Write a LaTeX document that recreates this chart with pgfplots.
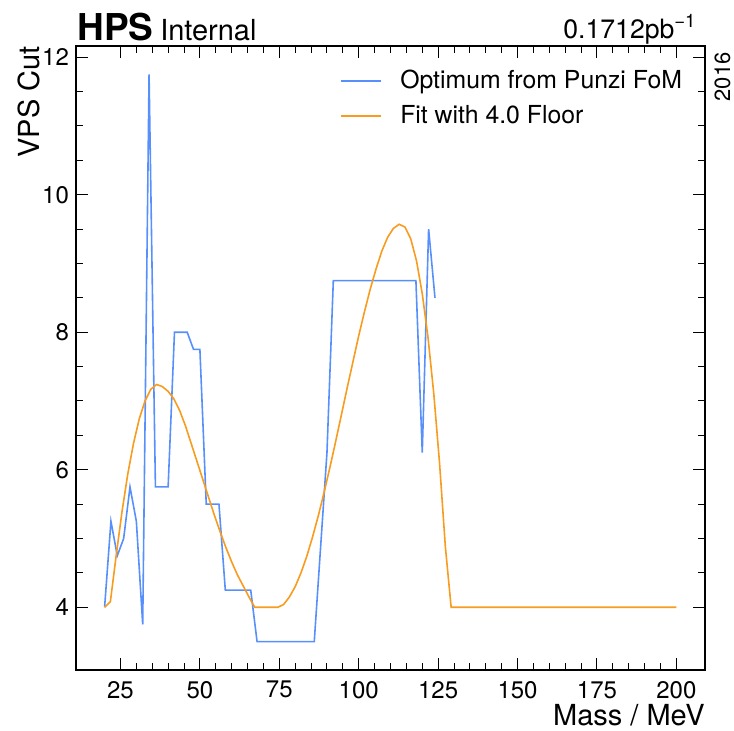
\documentclass[border=0pt]{standalone}
\usepackage{fontspec}
\setmainfont{TeX Gyre Heros}
\usepackage{pgfplots}
\pgfplotsset{compat=1.18}
\definecolor{hepblue}{HTML}{5790FC}
\definecolor{heporange}{HTML}{F89C20}
\begin{document}
\begin{tikzpicture}
\begin{axis}[
    scale only axis,
    clip mode=individual,
    width=314.5pt, height=312pt,
    xmin=11, xmax=209,
    ymin=3.0875, ymax=12.1625,
    xtick={25,50,...,200},
    ytick={4,6,8,10,12},
    minor x tick num=4,
    minor y tick num=3,
    tick align=inside,
    tick pos=both,
    major tick length=6pt,
    minor tick length=3.3pt,
    every tick/.style={black, line width=0.5pt},
    axis line style={line width=1pt},
    tick label style={font=\fontsize{12}{14}\selectfont},
    /pgf/number format/assume math mode=true,
    xticklabel style={yshift=-2pt},
    legend cell align=left,
    legend style={draw=none, fill=none, at={(axis description cs:0.98,0.975)}, anchor=north east,
        font=\fontsize{12.4}{14}\selectfont, row sep=3pt},
    legend image code/.code={\draw[#1] (0pt,0pt) -- (20pt,0pt); \path (27pt,0pt);},
]
\addlegendimage{color=hepblue, line width=0.8pt}
\addlegendentry{Optimum from Punzi FoM}
\addlegendimage{color=heporange, line width=0.8pt}
\addlegendentry{Fit with 4.0 Floor}
\addplot[color=hepblue, line width=0.8pt, forget plot] coordinates {
    (20,4.0) (22,5.25) (24,4.75) (26,5.0) (28,5.75) (30,5.25) (32,3.75) (34,11.75)
    (36,5.75) (38,5.75) (40,5.75) (42,8.0) (44,8.0) (46,8.0) (48,7.75) (50,7.75)
    (52,5.5) (54,5.5) (56,5.5) (58,4.25) (60,4.25) (62,4.25) (64,4.25) (66,4.25)
    (68,3.5) (70,3.5) (72,3.5) (74,3.5) (76,3.5) (78,3.5) (80,3.5) (82,3.5) (84,3.5)
    (86,3.5) (88,4.875) (90,6.25) (92,8.75) (94,8.75) (96,8.75) (98,8.75) (100,8.75)
    (102,8.75) (104,8.75) (106,8.75) (108,8.75) (110,8.75) (112,8.75) (114,8.75)
    (116,8.75) (118,8.75) (120,6.25) (122,9.5) (124,8.5)
};
\addplot[color=heporange, line width=0.8pt, forget plot] coordinates {
    (20.00,4.00) (21.82,4.08) (23.64,4.75) (25.45,5.38) (27.27,5.93) (29.09,6.38)
    (30.91,6.74) (32.73,7.00) (34.55,7.17) (36.36,7.24) (38.18,7.21) (40.00,7.14)
    (41.82,7.03) (43.64,6.86) (45.45,6.64) (47.27,6.38) (49.09,6.12) (50.91,5.86)
    (52.73,5.60) (54.55,5.34) (56.36,5.10) (58.18,4.87) (60.00,4.66) (61.82,4.47)
    (63.64,4.31) (65.45,4.15) (67.27,4.00) (69.09,4.00) (70.91,4.00) (72.73,4.00)
    (74.55,4.00) (76.36,4.04) (78.18,4.15) (80.00,4.30) (81.82,4.50) (83.64,4.74)
    (85.45,5.02) (87.27,5.33) (89.09,5.67) (90.91,6.03) (92.73,6.41) (94.55,6.80)
    (96.36,7.19) (98.18,7.57) (100.00,7.95) (101.82,8.30) (103.64,8.63) (105.45,8.92)
    (107.27,9.18) (109.09,9.38) (110.91,9.51) (112.73,9.57) (114.55,9.53) (116.36,9.36)
    (118.18,9.04) (120.00,8.56) (121.82,7.92) (123.64,7.10) (125.45,6.09) (127.27,4.88)
    (129.09,4.00) (200.00,4.00)
};
% labels placed like mplhep does it
\node[anchor=base east, inner sep=0pt, font=\fontsize{14.5}{16}\selectfont]
    at (rel axis cs:1,0) [yshift=-27.5pt] {Mass / MeV};
\node[xshift=-18pt, rotate=90, anchor=base east, inner sep=0pt, font=\fontsize{14.5}{16}\selectfont]
    at (rel axis cs:0,1) {VPS Cut};
\node[anchor=base west, inner sep=0pt, font=\fontsize{18.5}{20}\selectfont\bfseries]
    (hps) at (rel axis cs:0,1) [yshift=3pt, xshift=0.5pt] {HPS};
\node[anchor=base west, inner sep=0pt, font=\fontsize{14.5}{16}\selectfont]
    at (hps.base east) [xshift=3pt] {Internal};
\node[anchor=base east, inner sep=0pt, font=\fontsize{13.3}{15}\selectfont]
    at (rel axis cs:1,1) [xshift=-4pt, yshift=4pt] {0.1712pb\textsuperscript{−1}};
\node[xshift=12.5pt, yshift=-3pt, rotate=90, anchor=base east, inner sep=0pt, font=\fontsize{11}{13}\selectfont]
    at (rel axis cs:1,1) {2016};
\end{axis}
\pgfresetboundingbox
\path (-38pt,-30pt) rectangle (329pt,335pt);
\end{tikzpicture}
\end{document}
